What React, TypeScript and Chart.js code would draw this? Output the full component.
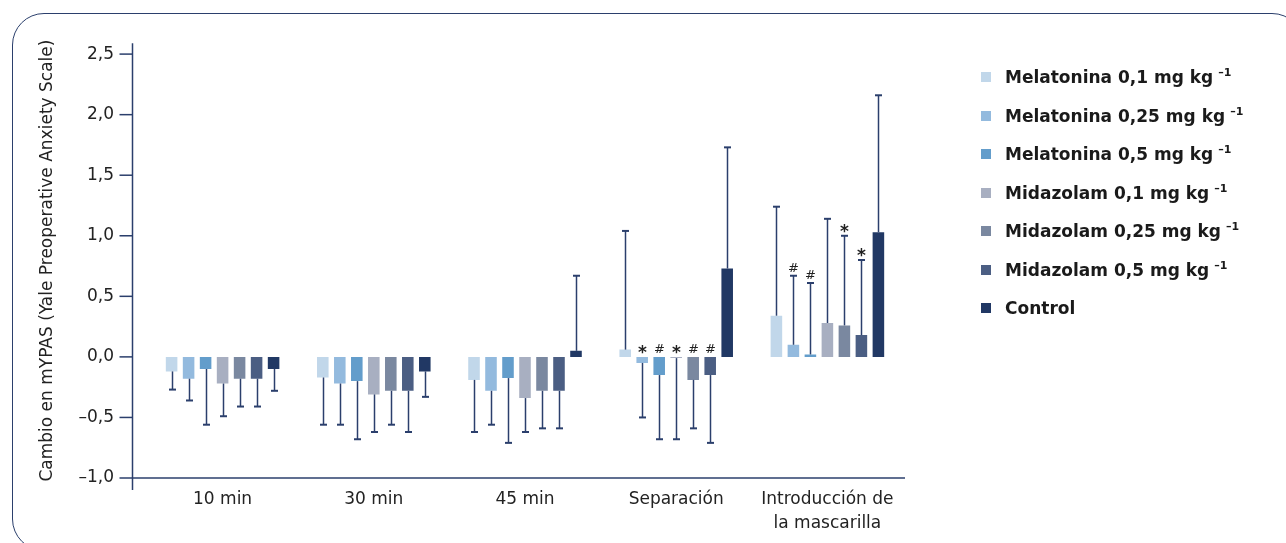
import React, { useEffect, useRef } from 'react';
import { Chart, registerables } from 'chart.js';

Chart.register(...registerables);

// ---------- data ----------
const categories: string[][] = [['10 min'], ['30 min'], ['45 min'], ['Separación'], ['Introducción de', 'la mascarilla']];

const seriesNames = [
  'Melatonina 0,1 mg kg',
  'Melatonina 0,25 mg kg',
  'Melatonina 0,5 mg kg',
  'Midazolam 0,1 mg kg',
  'Midazolam 0,25 mg kg',
  'Midazolam 0,5 mg kg',
  'Control',
];
const seriesUnitSup = ['–1', '–1', '–1', '–1', '–1', '–1', ''];
const seriesColors = ['#c1d7ea', '#93bade', '#639dcb', '#a8afc1', '#7a88a0', '#4b5e83', '#213864'];

const mel01 = [-0.12, -0.17, -0.19, 0.06, 0.34];
const mel025 = [-0.18, -0.22, -0.28, -0.05, 0.1];
const mel05 = [-0.1, -0.2, -0.175, -0.15, 0.02];
const mid01 = [-0.22, -0.31, -0.34, -0.01, 0.28];
const mid025 = [-0.18, -0.28, -0.28, -0.19, 0.26];
const mid05 = [-0.18, -0.28, -0.28, -0.15, 0.18];
const control = [-0.1, -0.12, 0.05, 0.73, 1.03];

// error bar end values (one-sided)
const mel01Err = [-0.27, -0.56, -0.62, 1.04, 1.24];
const mel025Err = [-0.36, -0.56, -0.56, -0.5, 0.67];
const mel05Err = [-0.56, -0.68, -0.71, -0.68, 0.61];
const mid01Err = [-0.49, -0.62, -0.62, -0.68, 1.14];
const mid025Err = [-0.41, -0.56, -0.59, -0.59, 1.0];
const mid05Err = [-0.41, -0.62, -0.59, -0.71, 0.8];
const controlErr = [-0.28, -0.33, 0.67, 1.73, 2.16];

// significance marks
const mel01Sig = ['', '', '', '', ''];
const mel025Sig = ['', '', '', '*', '#'];
const mel05Sig = ['', '', '', '#', '#'];
const mid01Sig = ['', '', '', '*', ''];
const mid025Sig = ['', '', '', '#', '*'];
const mid05Sig = ['', '', '', '#', '*'];
const controlSig = ['', '', '', '', ''];

const yTicks = [-1, -0.5, 0, 0.5, 1, 1.5, 2, 2.5];
const yTitle = 'Cambio en mYPAS (Yale Preoperative Anxiety Scale)';

const seriesValues = [mel01, mel025, mel05, mid01, mid025, mid05, control];
const seriesErr = [mel01Err, mel025Err, mel05Err, mid01Err, mid025Err, mid05Err, controlErr];
const seriesSig = [mel01Sig, mel025Sig, mel05Sig, mid01Sig, mid025Sig, mid05Sig, controlSig];

const AXIS = '#2b3f6c';
const TEXT = '#222222';
const FONT = '"DejaVu Sans"';

const fmt = (v: number) => {
  const s = Math.abs(v).toFixed(1).replace('.', ',');
  return v < 0 ? '–' + s : s;
};

const axesPlugin = {
  id: 'customAxes',
  afterDraw(chart: any) {
    const { ctx, chartArea, scales } = chart;
    const y = scales.y;
    const axX = Math.round(chartArea.left - 15) + 0.5;
    const yBottom = y.getPixelForValue(-1);
    ctx.save();
    ctx.strokeStyle = AXIS;
    ctx.lineWidth = 1.5;
    ctx.beginPath();
    ctx.moveTo(axX, chartArea.top);
    ctx.lineTo(axX, yBottom + 12);
    ctx.stroke();
    yTicks.forEach((v) => {
      const py = y.getPixelForValue(v);
      ctx.beginPath();
      ctx.moveTo(axX - 13, py);
      ctx.lineTo(axX, py);
      ctx.stroke();
    });
    ctx.beginPath();
    ctx.moveTo(axX, yBottom);
    ctx.lineTo(chartArea.right + 2, yBottom);
    ctx.stroke();
    ctx.restore();
  },
};

const errorPlugin = {
  id: 'errorBars',
  afterDatasetsDraw(chart: any) {
    const { ctx, scales } = chart;
    const y = scales.y;
    ctx.save();
    seriesErr.forEach((errs, i) => {
      const meta = chart.getDatasetMeta(i);
      meta.data.forEach((bar: any, j: number) => {
        const v = seriesValues[i][j];
        const e = errs[j];
        const x = Math.round(bar.x) + 0.5;
        const y0 = y.getPixelForValue(v);
        const y1 = y.getPixelForValue(e);
        ctx.strokeStyle = AXIS;
        ctx.lineWidth = 1.5;
        ctx.beginPath();
        ctx.moveTo(x, y0);
        ctx.lineTo(x, y1);
        ctx.stroke();
        ctx.lineWidth = 2;
        ctx.beginPath();
        ctx.moveTo(x - 3.5, y1);
        ctx.lineTo(x + 3.5, y1);
        ctx.stroke();
        const sig = seriesSig[i][j];
        if (sig) {
          const top = Math.min(y0, y1, y.getPixelForValue(0));
          ctx.fillStyle = TEXT;
          ctx.textAlign = 'center';
          ctx.textBaseline = 'alphabetic';
          if (sig === '*') {
            ctx.font = `bold 17px ${FONT}`;
            ctx.fillText(sig, x, top + 1);
          } else {
            ctx.font = `13px ${FONT}`;
            ctx.fillText(sig, x, top - 4);
          }
        }
      });
    });
    ctx.restore();
  },
};

export default function App() {
  const ref = useRef<HTMLCanvasElement>(null);

  useEffect(() => {
    if (!ref.current) return;
    const chart = new Chart(ref.current, {
      type: 'bar',
      data: {
        labels: categories,
        datasets: seriesNames.map((n, i) => ({
          label: n,
          data: seriesValues[i],
          backgroundColor: seriesColors[i],
          borderWidth: 0,
          categoryPercentage: 0.787,
          barPercentage: 0.68,
        })),
      },
      options: {
        responsive: false,
        maintainAspectRatio: false,
        animation: false,
        layout: { padding: { left: 33, top: 42, right: 383, bottom: 0 } },
        plugins: { legend: { display: false }, tooltip: { enabled: false } },
        scales: {
          x: {
            grid: { display: false, drawTicks: false },
            border: { display: false },
            ticks: { color: TEXT, font: { family: FONT, size: 17, lineHeight: 1.4 }, padding: 10, maxRotation: 0, autoSkip: false },
            afterFit: (s: any) => {
              s.height = 65;
            },
          },
          y: {
            min: -1,
            max: 2.59,
            grid: { display: false, drawTicks: false },
            border: { display: false },
            afterBuildTicks: (s: any) => {
              s.ticks = yTicks.map((v) => ({ value: v }));
            },
            ticks: {
              color: TEXT,
              font: { family: FONT, size: 17 },
              padding: 33,
              callback: (v: any) => fmt(Number(v)),
            },
            title: {
              display: true,
              text: yTitle,
              color: TEXT,
              font: { family: FONT, size: 17 },
              padding: { top: 4, bottom: 0 },
            },
            afterFit: (s: any) => {
              s.width = 114;
            },
          },
        },
      },
      plugins: [axesPlugin, errorPlugin],
    });
    return () => chart.destroy();
  }, []);

  return (
    <div style={{ position: 'fixed', left: 0, top: 0, width: 1286, height: 543, overflow: 'hidden', background: '#fff' }}>
      <div
        style={{
          position: 'absolute',
          left: 12,
          top: 13,
          width: 1292,
          height: 538,
          border: `1.5px solid ${AXIS}`,
          borderRadius: 32,
          boxSizing: 'border-box',
        }}
      />
      <canvas ref={ref} width={1286} height={543} style={{ position: 'absolute', left: 0, top: 0, width: 1286, height: 543 }} />
      <div style={{ position: 'absolute', left: 981, top: 60, fontFamily: FONT }}>
        {seriesNames.map((n, i) => (
          <div key={n} style={{ position: 'absolute', left: 0, top: i * 38.5, height: 34, display: 'flex', alignItems: 'center', whiteSpace: 'nowrap' }}>
            <div style={{ width: 10, height: 10, background: seriesColors[i], marginRight: 14 }} />
            <span style={{ fontWeight: 700, fontSize: 17, color: '#1a1a1a', letterSpacing: 0 }}>
              {n}
              {seriesUnitSup[i] ? (
                <span style={{ fontSize: 11, position: 'relative', top: -7, marginLeft: 5 }}>{seriesUnitSup[i]}</span>
              ) : null}
            </span>
          </div>
        ))}
      </div>
    </div>
  );
}
